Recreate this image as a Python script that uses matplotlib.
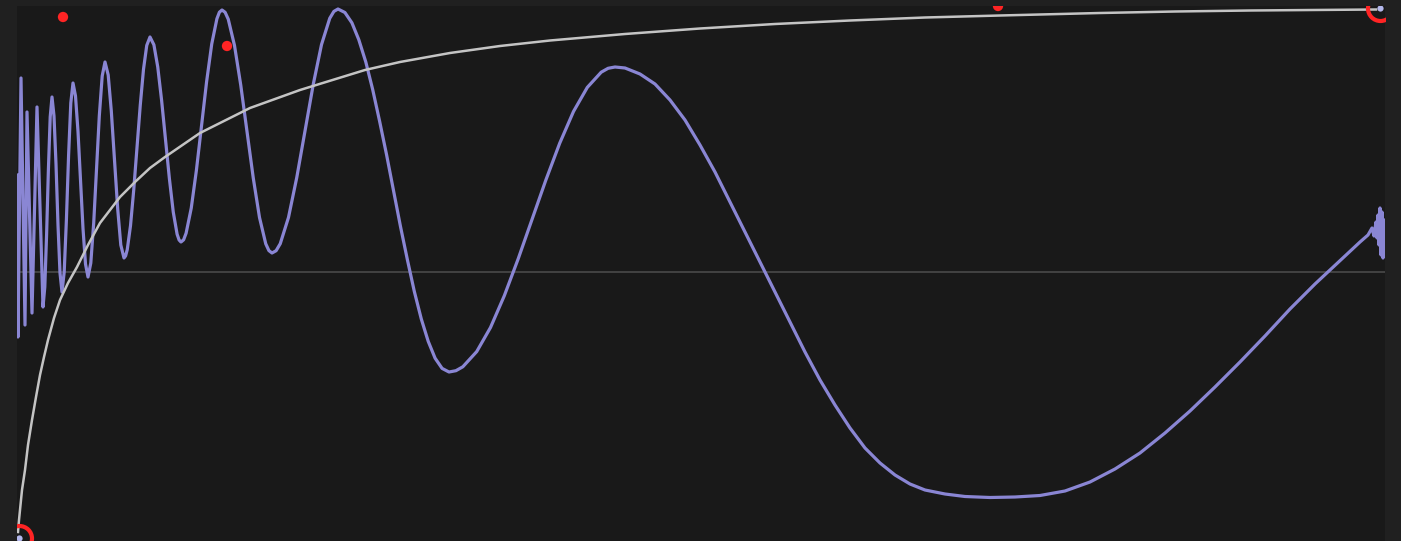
import matplotlib
matplotlib.use("Agg")
import matplotlib.pyplot as plt

# Oscillating signal (sample position, level)
wave_x = [-1, 0, 3, 7, 9, 14, 19, 25, 26.8, 28.6, 30.4, 32.2, 34,
          36, 38, 40, 42, 44,
          46.2, 48.4, 50.6, 52.8, 55,
          57.5, 60, 62.5, 65, 67.5, 70,
          72.8, 75.7, 78.5, 81.3, 84.2, 87,
          90.2, 93.3, 96.5, 99.7, 102.8, 106,
          107.6, 109.25, 112.5, 115.75, 119, 122.25, 125.5, 128.75, 132,
          135.9, 139.75, 143.6, 147.5, 151.4, 155.25, 159.1, 161.1, 163,
          165.6, 168.1, 173.25, 178.4, 183.5, 188.6, 193.75, 198.9, 201.4, 204,
          207.1, 210.25, 216.5, 222.75, 229, 235.25, 241.5, 247.75, 250.9, 254,
          258.1, 262.25, 270.5, 278.75, 287, 295.25, 303.5, 311.75, 315.9, 320,
          326.9, 333.9, 340.8, 347.8, 354.7, 361.6, 368.6, 375.5, 382.4,
          389.4, 396.3, 403.3, 410.2, 417.1, 424.1, 431,
          437.9, 444.8, 458.7, 472.5, 486.3, 500.2, 514, 527.8, 541.7, 555.5,
          569.3, 583.2, 590.1, 597,
          607, 622, 637, 652, 667, 682, 697, 712, 727, 742, 757, 772, 787, 802,
          817, 832, 847, 862, 877, 892, 907, 927, 947, 972, 997,
          1022, 1047, 1072, 1097, 1122, 1147, 1172, 1197, 1222, 1247, 1272,
          1297, 1312, 1327, 1342, 1350,
          1354, 1356, 1358, 1359, 1360, 1361, 1362, 1363, 1364, 1365, 1366]
wave_y = [97, -65, 194, -53, 160, -41, 165, -35, -15, 37.5, 102.5, 155, 175,
          156, 108, 47, -1, -20,
          0, 52, 117, 169, 189,
          176, 140.5, 92, 43.5, 8, -5,
          9, 49, 102.5, 156, 196, 210,
          197, 161, 112, 63, 27, 14,
          16.1, 22.4, 46.3, 82.3, 124.5, 166.7, 202.7, 226.6, 235,
          227.2, 205, 171.7, 132.5, 93.3, 60, 37.8, 32, 30,
          32.2, 38.8, 63.9, 101.7, 146, 190.3, 228.1, 253.2, 259.8, 262,
          259.7, 252.8, 226.5, 186.9, 140.5, 94.1, 54.5, 28.2, 21.4, 19,
          21.3, 28.3, 54.6, 94.4, 141, 187.6, 227.4, 253.7, 260.6, 263,
          259.5, 249.2, 232.3, 210, 182.4, 150.8, 117.1, 81.5, 45.9,
          12.2, -19.4, -47, -69.3, -86.2, -96.4, -100,
          -98.7, -94.8, -79.6, -55.5, -23.75, 13.2, 52.5, 91.8, 128.75, 160.5,
          184.6, 199.8, 203.7, 205,
          204, 198, 188, 172, 152, 127, 100, 70, 40, 10, -20, -50, -80, -108,
          -133, -156, -176, -191, -203, -212, -218, -222, -224.5, -225.5, -225,
          -223.5, -219, -210, -197, -181, -161, -139, -115, -90, -64, -37,
          -12, 2, 16, 30, 37,
          44, 36, 50, 34, 57, 27, 64, 17, 60, 14, 52]

# Cumulative curve
curve_x = [0, 1, 2, 4, 7, 10, 14, 18, 22, 26, 30, 36, 42, 50, 59, 70, 82,
           92, 102, 117, 132, 147, 182, 232, 282, 347, 382, 432, 482, 532,
           607, 682, 757, 832, 907, 982, 1082, 1157, 1232, 1358]
curve_y = [-260, -248, -238, -218, -198, -173, -148, -125, -103, -85, -68,
           -46, -28, -11, 5, 27, 49, 62, 75, 90, 104, 115, 139, 164, 182, 202,
           210, 219, 226, 231.5, 238, 243.5, 248, 251.5, 254.5, 256.5, 259,
           260.5, 261.5, 262.5]

# Highlighted samples
dot_x = [45, 209, 980]
dot_y = [255, 226, 266]

# Curve end markers
end_x = [1, 1362]
end_y = [-266, 264]

BG_FIG = "#202020"
BG_AX = "#191919"
PURPLE = "#8a86d4"
WHITE = "#c4c4c4"
RED = "#ff2424"

fig = plt.figure(figsize=(14.01, 5.41), dpi=100)
fig.patch.set_facecolor(BG_FIG)
ax = fig.add_axes([17 / 1401, 0.0, (1385 - 17) / 1401, 1 - 6 / 541])
ax.set_facecolor(BG_AX)
ax.set_xlim(-1, 1367)
ax.set_ylim(-269, 266)
for s in ax.spines.values():
    s.set_visible(False)
ax.set_xticks([])
ax.set_yticks([])

ax.axhline(0, color="#4e4e4e", lw=1.1, zorder=1)
ax.plot(wave_x, wave_y, color=PURPLE, lw=2.3, solid_joinstyle="round",
        zorder=3)
ax.plot(curve_x, curve_y, color=WHITE, lw=1.8, solid_joinstyle="round",
        zorder=4)
ax.scatter(dot_x, dot_y, s=55, color=RED, edgecolors="none", zorder=5)
ax.plot(end_x, end_y, ls="none", marker="o", ms=18, mfc="none", mec=RED,
        mew=3.0, zorder=6)
ax.plot(end_x, end_y, ls="none", marker="o", ms=4.5, mfc="#b4b8ec",
        mec="none", zorder=7)

fig.savefig("out.png", dpi=100, facecolor=BG_FIG)
